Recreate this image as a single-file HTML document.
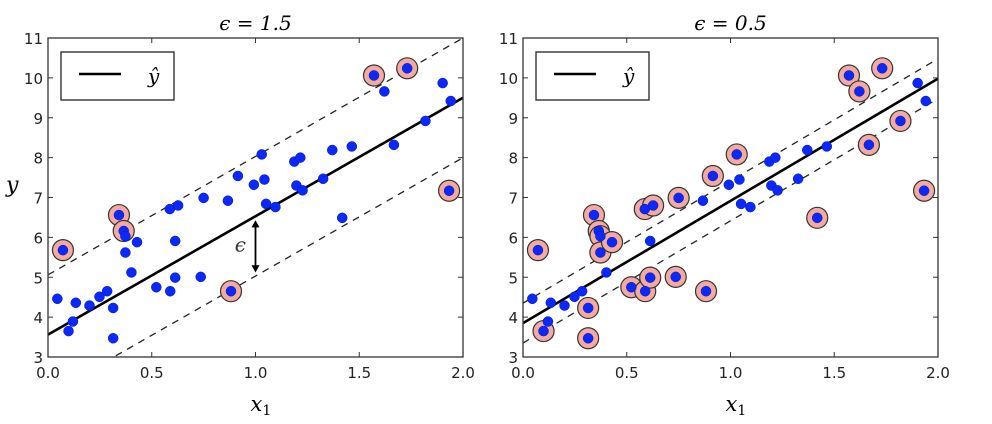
<!DOCTYPE html>
<html><head><meta charset="utf-8">
<style>
body{margin:0;background:#fff;}
svg{display:block;font-family:"DejaVu Sans","Liberation Sans",sans-serif;}
.tk{font-size:15px;fill:#222;}
.math{font-family:"DejaVu Serif","Liberation Serif",serif;font-style:italic;}
</style></head>
<body>
<svg id="chart" width="992" height="424" viewBox="0 0 992 424" xmlns="http://www.w3.org/2000/svg"></svg>
<script>
const xs = [0.072,0.045,0.099,0.12,0.134,0.2,0.248,0.285,0.314,0.314,0.342,0.365,0.373,0.373,0.402,0.429,0.522,0.587,0.589,0.613,0.613,0.627,0.736,0.75,0.867,0.882,0.915,0.992,1.03,1.043,1.051,1.096,1.187,1.216,1.197,1.227,1.326,1.37,1.418,1.464,1.571,1.621,1.667,1.731,1.819,1.902,1.941,1.933];
const ys = [5.68,4.46,3.65,3.89,4.36,4.29,4.51,4.65,4.23,3.47,6.56,6.16,6.03,5.62,5.12,5.88,4.75,6.71,4.65,5.91,4.99,6.80,5.01,6.99,6.92,4.65,7.54,7.32,8.08,7.45,6.84,6.76,7.90,8.00,7.30,7.18,7.47,8.19,6.49,8.28,10.06,9.66,8.32,10.24,8.92,9.87,9.42,7.17];
const epsilons = [1.5, 0.5];
const intercepts = [3.56, 3.85];
const slopes = [2.97, 3.065];
const xTicks = ["0.0","0.5","1.0","1.5","2.0"];
const yTicks = [3,4,5,6,7,8,9,10,11];
const titles = ["\u03f5 = 1.5","\u03f5 = 0.5"];

const NS="http://www.w3.org/2000/svg";
const svg=document.getElementById('chart');
function mk(tag,attrs,parent,text){const e=document.createElementNS(NS,tag);for(const k in attrs)e.setAttribute(k,attrs[k]);if(text!==undefined)e.textContent=text;(parent||svg).appendChild(e);return e;}

const panels=[{x0:48,x1:463},{x0:523,x1:938}];
const Y0=357,Y1=38;
panels.forEach((p,pi)=>{
  const sx=v=>p.x0+(v/2)*(p.x1-p.x0);
  const sy=v=>Y0-(v-3)/8*(Y0-Y1);
  const g=mk('g',{},svg);
  
  
  mk('defs',{},g).innerHTML=`<clipPath id="clip${pi}"><rect x="${p.x0}" y="${Y1}" width="${p.x1-p.x0}" height="${Y0-Y1}"/></clipPath>`;
  const plot=mk('g',{'clip-path':`url(#clip${pi})`},g);
  const eps=epsilons[pi],b=intercepts[pi],m=slopes[pi];
  // dashed margins
  [eps,-eps].forEach((d,di)=>{
    const l=mk('line',{x1:sx(0),y1:sy(b+d),x2:sx(2),y2:sy(b+d+2*m),stroke:'#222','stroke-width':1.3,'stroke-dasharray':'7,6'},plot);
    
    
  });
  const ml=mk('line',{x1:sx(0),y1:sy(b),x2:sx(2),y2:sy(b+2*m),stroke:'#000','stroke-width':2.6},plot);
  
  
  // support vectors
  xs.forEach((x,i)=>{
    const r=ys[i]-(b+m*x);
    if(Math.abs(r)>=eps*0.99){
      const c=mk('circle',{cx:sx(x),cy:sy(ys[i]),r:10.5,fill:'#f5aaa0',stroke:'#333','stroke-width':1.2},plot);
      
      
    }
  });
  xs.forEach((x,i)=>{
    const c=mk('circle',{cx:sx(x),cy:sy(ys[i]),r:5,fill:'#0a28ff',stroke:'#0018aa','stroke-width':0.5},plot);
    
    
  });
  // frame
  const fr=mk('rect',{x:p.x0,y:Y1,width:p.x1-p.x0,height:Y0-Y1,fill:'none',stroke:'#333','stroke-width':1.3},g);
  
  
  xTicks.forEach((t,i)=>{
    const x=sx(parseFloat(t));
    mk('line',{x1:x,y1:Y0,x2:x,y2:Y0-5,stroke:'#333'},g);
    mk('line',{x1:x,y1:Y1,x2:x,y2:Y1+5,stroke:'#333'},g);
    const tx=mk('text',{x:x,y:378,'text-anchor':'middle',class:'tk'},g,t);
    
    
  });
  yTicks.forEach(v=>{
    const y=sy(v);
    mk('line',{x1:p.x0,y1:y,x2:p.x0+5,y2:y,stroke:'#333'},g);
    mk('line',{x1:p.x1,y1:y,x2:p.x1-5,y2:y,stroke:'#333'},g);
    const tx=mk('text',{x:p.x0-5,y:y+6,'text-anchor':'end',class:'tk'},g,String(v));
    
    
  });
  const tt=mk('text',{x:(p.x0+p.x1)/2,y:30,'text-anchor':'middle','font-size':20,class:'math'},g,titles[pi]);
  
  
  const xl=mk('text',{x:(p.x0+p.x1)/2-5,y:411,'font-size':21,class:'math'},g,'x');
  
  
  mk('tspan',{'font-size':14,dy:4,'font-style':'normal'},xl,'1');
  // legend
  const lg=mk('g',{},g);
  
  
  mk('rect',{x:p.x0+13,y:52,width:113,height:48,fill:'#fff',stroke:'#222','stroke-width':1.3},lg);
  mk('line',{x1:p.x0+31,y1:74,x2:p.x0+73,y2:74,stroke:'#000','stroke-width':2.6},lg);
  mk('text',{x:p.x0+100,y:83,'font-size':20,class:'math'},lg,'\u0177');
  if(pi===0){
    const ax=sx(1.0);
    const ar=mk('g',{},g);
    
    
    mk('line',{x1:ax,y1:sy(6.35),x2:ax,y2:sy(5.2),stroke:'#000','stroke-width':1.8},ar);
    mk('polygon',{points:`${ax},${sy(6.43)} ${ax-4},${sy(6.25)} ${ax+4},${sy(6.25)}`,fill:'#000'},ar);
    mk('polygon',{points:`${ax},${sy(5.12)} ${ax-4},${sy(5.3)} ${ax+4},${sy(5.3)}`,fill:'#000'},ar);
    mk('text',{x:sx(0.9),y:sy(5.65),'font-size':20,class:'math',fill:'#333'},ar,'\u03f5');
  }
});
const yl=mk('text',{x:6,y:192,'font-size':22,class:'math'},svg,'y');


</script>
</body></html>
